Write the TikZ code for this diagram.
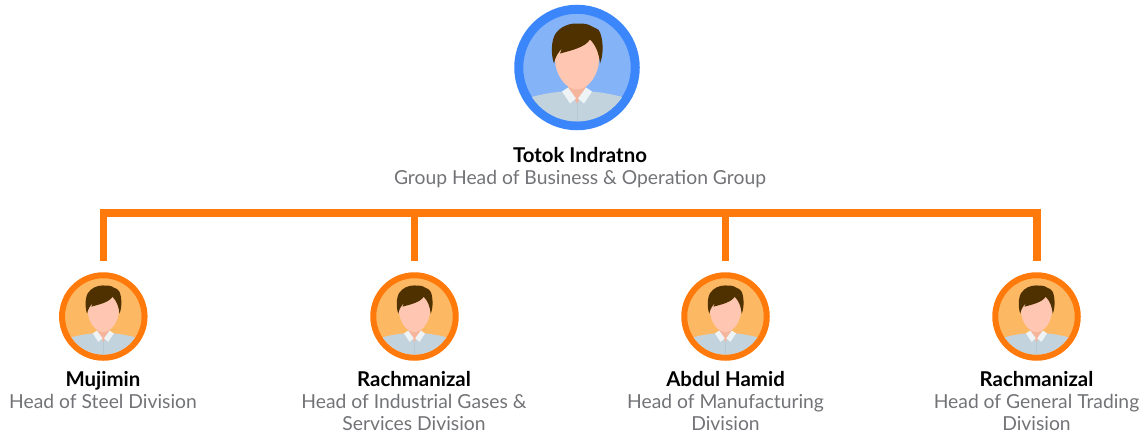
\documentclass[tikz,border=0pt]{standalone}
\usepackage{fontspec}
\setmainfont{Lato}
\usetikzlibrary{calc}

\definecolor{ringblue}{HTML}{3B86FB}
\definecolor{discblue}{HTML}{84B3F8}
\definecolor{ringorange}{HTML}{FF7A0A}
\definecolor{discorange}{HTML}{FDB863}
\definecolor{hairbrown}{HTML}{4F3100}
\definecolor{skin}{HTML}{FFC7B1}
\definecolor{neckskin}{HTML}{F5B49C}
\definecolor{shirt}{HTML}{C2D3DE}
\definecolor{shirtline}{HTML}{B6C8D4}
\definecolor{collar}{HTML}{EEF4F6}
\definecolor{rolegray}{HTML}{727376}

\tikzset{
	avatar/.style={circle, draw=ringorange, fill=discorange, line width=6pt, minimum size=82.5pt, inner sep=0pt},
	bigavatar/.style={circle, draw=ringblue, fill=discblue, line width=9pt, minimum size=116.5pt, inner sep=0pt},
	personname/.style={anchor=base, inner sep=0pt, font=\fontsize{20.4}{22}\selectfont\bfseries, text=black},
	personrole/.style={anchor=base, inner sep=0pt, align=center, font=\fontsize{19.3}{22}\selectfont, text=rolegray},
	bus/.style={draw=ringorange, line width=7.5pt},
	person/.pic={
		\begin{scope}
			\clip (0,0) circle (54);
			% shirt
			\fill[shirt] (-60,34) .. controls (-40,27) and (-25,25) .. (-15,24) -- (15,24)
			.. controls (25,25) and (40,27) .. (60,34) -- (60,60) -- (-60,60) -- cycle;
			\draw[shirtline, line width=0.4pt] (0,34) -- (0,54);
			% neck
			\fill[neckskin] (-9,12) -- (9,12) -- (9,20) -- (0,36) -- (-9,20) -- cycle;
			% face
			\fill[skin] (0,22) .. controls (-12,22) and (-22,6) .. (-22,-8)
			.. controls (-22,-44) and (22,-44) .. (22,-8)
			.. controls (22,6) and (12,22) .. (0,22) -- cycle;
			% collar
			\fill[collar] (-15,24) -- (-9,20) -- (-1,31) -- (-7,36) -- cycle;
			\fill[collar] (15,24) -- (9,20) -- (1,31) -- (7,36) -- cycle;
			% hair
			\fill[hairbrown] (-23,-4) .. controls (-26,-12) and (-26,-26) .. (-22,-33)
			.. controls (-17,-41) and (-8,-44) .. (-1,-44)
			.. controls (6,-44) and (11,-44) .. (15,-41)
			.. controls (18,-39) and (22,-39) .. (23,-35)
			.. controls (26,-28) and (27,-14) .. (23,-4)
			.. controls (22,-14) and (19,-22) .. (13,-28)
			.. controls (8,-20) and (-6,-17) .. (-17,-14)
			-- (-15,-19) .. controls (-19,-15) and (-22,-10) .. (-23,-4) -- cycle;
		\end{scope}
	}
}

\begin{document}
\begin{tikzpicture}[x=1pt, y=-1pt]

	\useasboundingbox (0,0) rectangle (1147,434);

	% group head
	\node[bigavatar] (totok) at (577,67.5) {};
	\pic at (totok) {person};
	\node[personname] (totokname) at (580,162) {Totok Indratno};
	\node[personrole] (totokrole) at (580,184) {Group Head of Business \& Operation Group};

	% division heads
	\node[avatar] (mujimin) at (103.3,316.5) {};
	\pic[scale=0.705] at (mujimin) {person};
	\node[personname] (mujiminname) at (103,386) {Mujimin};
	\node[personrole] (mujiminrole) at (103,408) {Head of Steel Division};

	\node[avatar] (gases) at (414.5,316.5) {};
	\pic[scale=0.705] at (gases) {person};
	\node[personname] (gasesname) at (414,386) {Rachmanizal};
	\node[personrole, anchor=north] (gasesrole) at (414,394) {Head of Industrial Gases \&\\Services Division};

	\node[avatar] (abdul) at (725.5,316.5) {};
	\pic[scale=0.705] at (abdul) {person};
	\node[personname] (abdulname) at (725.5,386) {Abdul Hamid};
	\node[personrole, anchor=north] (abdulrole) at (725.5,394) {Head of Manufacturing\\Division};

	\node[avatar] (trading) at (1036.5,316.5) {};
	\pic[scale=0.705] at (trading) {person};
	\node[personname] (tradingname) at (1036.5,386) {Rachmanizal};
	\node[personrole, anchor=north] (tradingrole) at (1036.5,394) {Head of General Trading\\Division};

	% connector ends
	\coordinate (busleft) at (103.5,213);
	\coordinate (busgases) at (414.5,213);
	\coordinate (busabdul) at (725.5,213);
	\coordinate (busright) at (1037,213);
	\coordinate (dropleft) at (103.5,260.5);
	\coordinate (dropgases) at (414.5,260.5);
	\coordinate (dropabdul) at (725.5,260.5);
	\coordinate (dropright) at (1037,260.5);

	% bus and drops
	\draw[bus, line cap=rect] (busleft) -- (busright);
	\draw[bus] (busleft) -- (dropleft);
	\draw[bus] (busgases) -- (dropgases);
	\draw[bus] (busabdul) -- (dropabdul);
	\draw[bus] (busright) -- (dropright);

\end{tikzpicture}
\end{document}
